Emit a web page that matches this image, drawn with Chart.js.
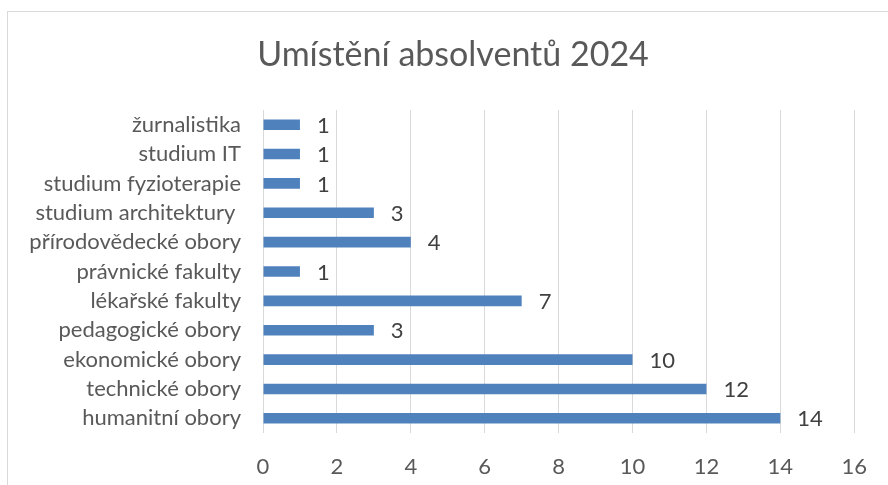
<!DOCTYPE html>
<html>
<head>
<meta charset="utf-8">
<style>
  html, body { margin: 0; padding: 0; background: #fff; overflow: hidden; }
  #wrap { width: 888px; height: 485px; }
</style>
<script src="https://cdn.jsdelivr.net/npm/chart.js@4/dist/chart.umd.min.js"></script>
</head>
<body>
<div id="wrap"><canvas id="chart" width="888" height="485"></canvas></div>
<script>
// Data, top row first
const categories = [
    'žurnalistika',
    'studium IT',
    'studium fyzioterapie',
    'studium architektury ',
    'přírodovědecké obory',
    'právnické fakulty',
    'lékařské fakulty',
    'pedagogické obory',
    'ekonomické obory',
    'technické obory',
    'humanitní obory'
];
const values = [1, 1, 1, 3, 4, 1, 7, 3, 10, 12, 14];
const xMin = 0;
const xMax = 16;
const xStep = 2;
const titleText = 'Umístění absolventů 2024';

const fontFamily = 'Lato, "Liberation Sans", sans-serif';

// Value labels at the end of each bar
const barLabels = {
    id: 'barLabels',
    afterDatasetsDraw(chart) {
        const ctx = chart.ctx;
        const meta = chart.getDatasetMeta(0);
        ctx.save();
        ctx.font = '22px ' + fontFamily;
        ctx.fillStyle = '#404040';
        ctx.textAlign = 'left';
        ctx.textBaseline = 'middle';
        meta.data.forEach((bar, i) => {
            ctx.fillText(String(values[i]), bar.x + 17, bar.y + 1);
        });
        ctx.restore();
    }
};

// Chart frame (only left and top edges visible) and the title,
// centred on the whole frame which runs past the window
const frame = {
    id: 'frame',
    beforeDraw(chart) {
        const ctx = chart.ctx;
        ctx.save();
        ctx.fillStyle = '#fff';
        ctx.fillRect(0, 0, chart.width, chart.height);
        ctx.strokeStyle = '#d9d9d9';
        ctx.lineWidth = 1;
        ctx.strokeRect(7.5, 11.5, 1000, 1000);
        ctx.font = '34px ' + fontFamily;
        ctx.fillStyle = '#595959';
        ctx.textAlign = 'center';
        ctx.textBaseline = 'middle';
        ctx.fillText(titleText, 453, 55);
        ctx.restore();
    }
};

new Chart(document.getElementById('chart'), {
    type: 'bar',
    data: {
        labels: categories,
        datasets: [{
            data: values,
            backgroundColor: '#4f81bd',
            borderWidth: 0,
            categoryPercentage: 1,
            barPercentage: 0.36
        }]
    },
    options: {
        indexAxis: 'y',
        responsive: false,
        animation: false,
        layout: { padding: { left: 0, right: 31, top: 110, bottom: 0 } },
        plugins: {
            legend: { display: false },
            tooltip: { enabled: false },
            title: { display: false }
        },
        scales: {
            x: {
                min: xMin,
                max: xMax,
                ticks: {
                    stepSize: xStep,
                    color: '#595959',
                    font: { family: fontFamily, size: 22 },
                    padding: 21
                },
                grid: { color: '#d9d9d9', lineWidth: 1, drawTicks: false },
                border: { display: false },
                afterFit(scale) { scale.height = 52; }
            },
            y: {
                ticks: {
                    color: '#595959',
                    font: { family: fontFamily, size: 22 },
                    padding: 22,
                    autoSkip: false
                },
                grid: { display: false, drawTicks: false },
                border: { display: false },
                afterFit(scale) { scale.width = 263; }
            }
        }
    },
    plugins: [frame, barLabels]
});
</script>
</body>
</html>
